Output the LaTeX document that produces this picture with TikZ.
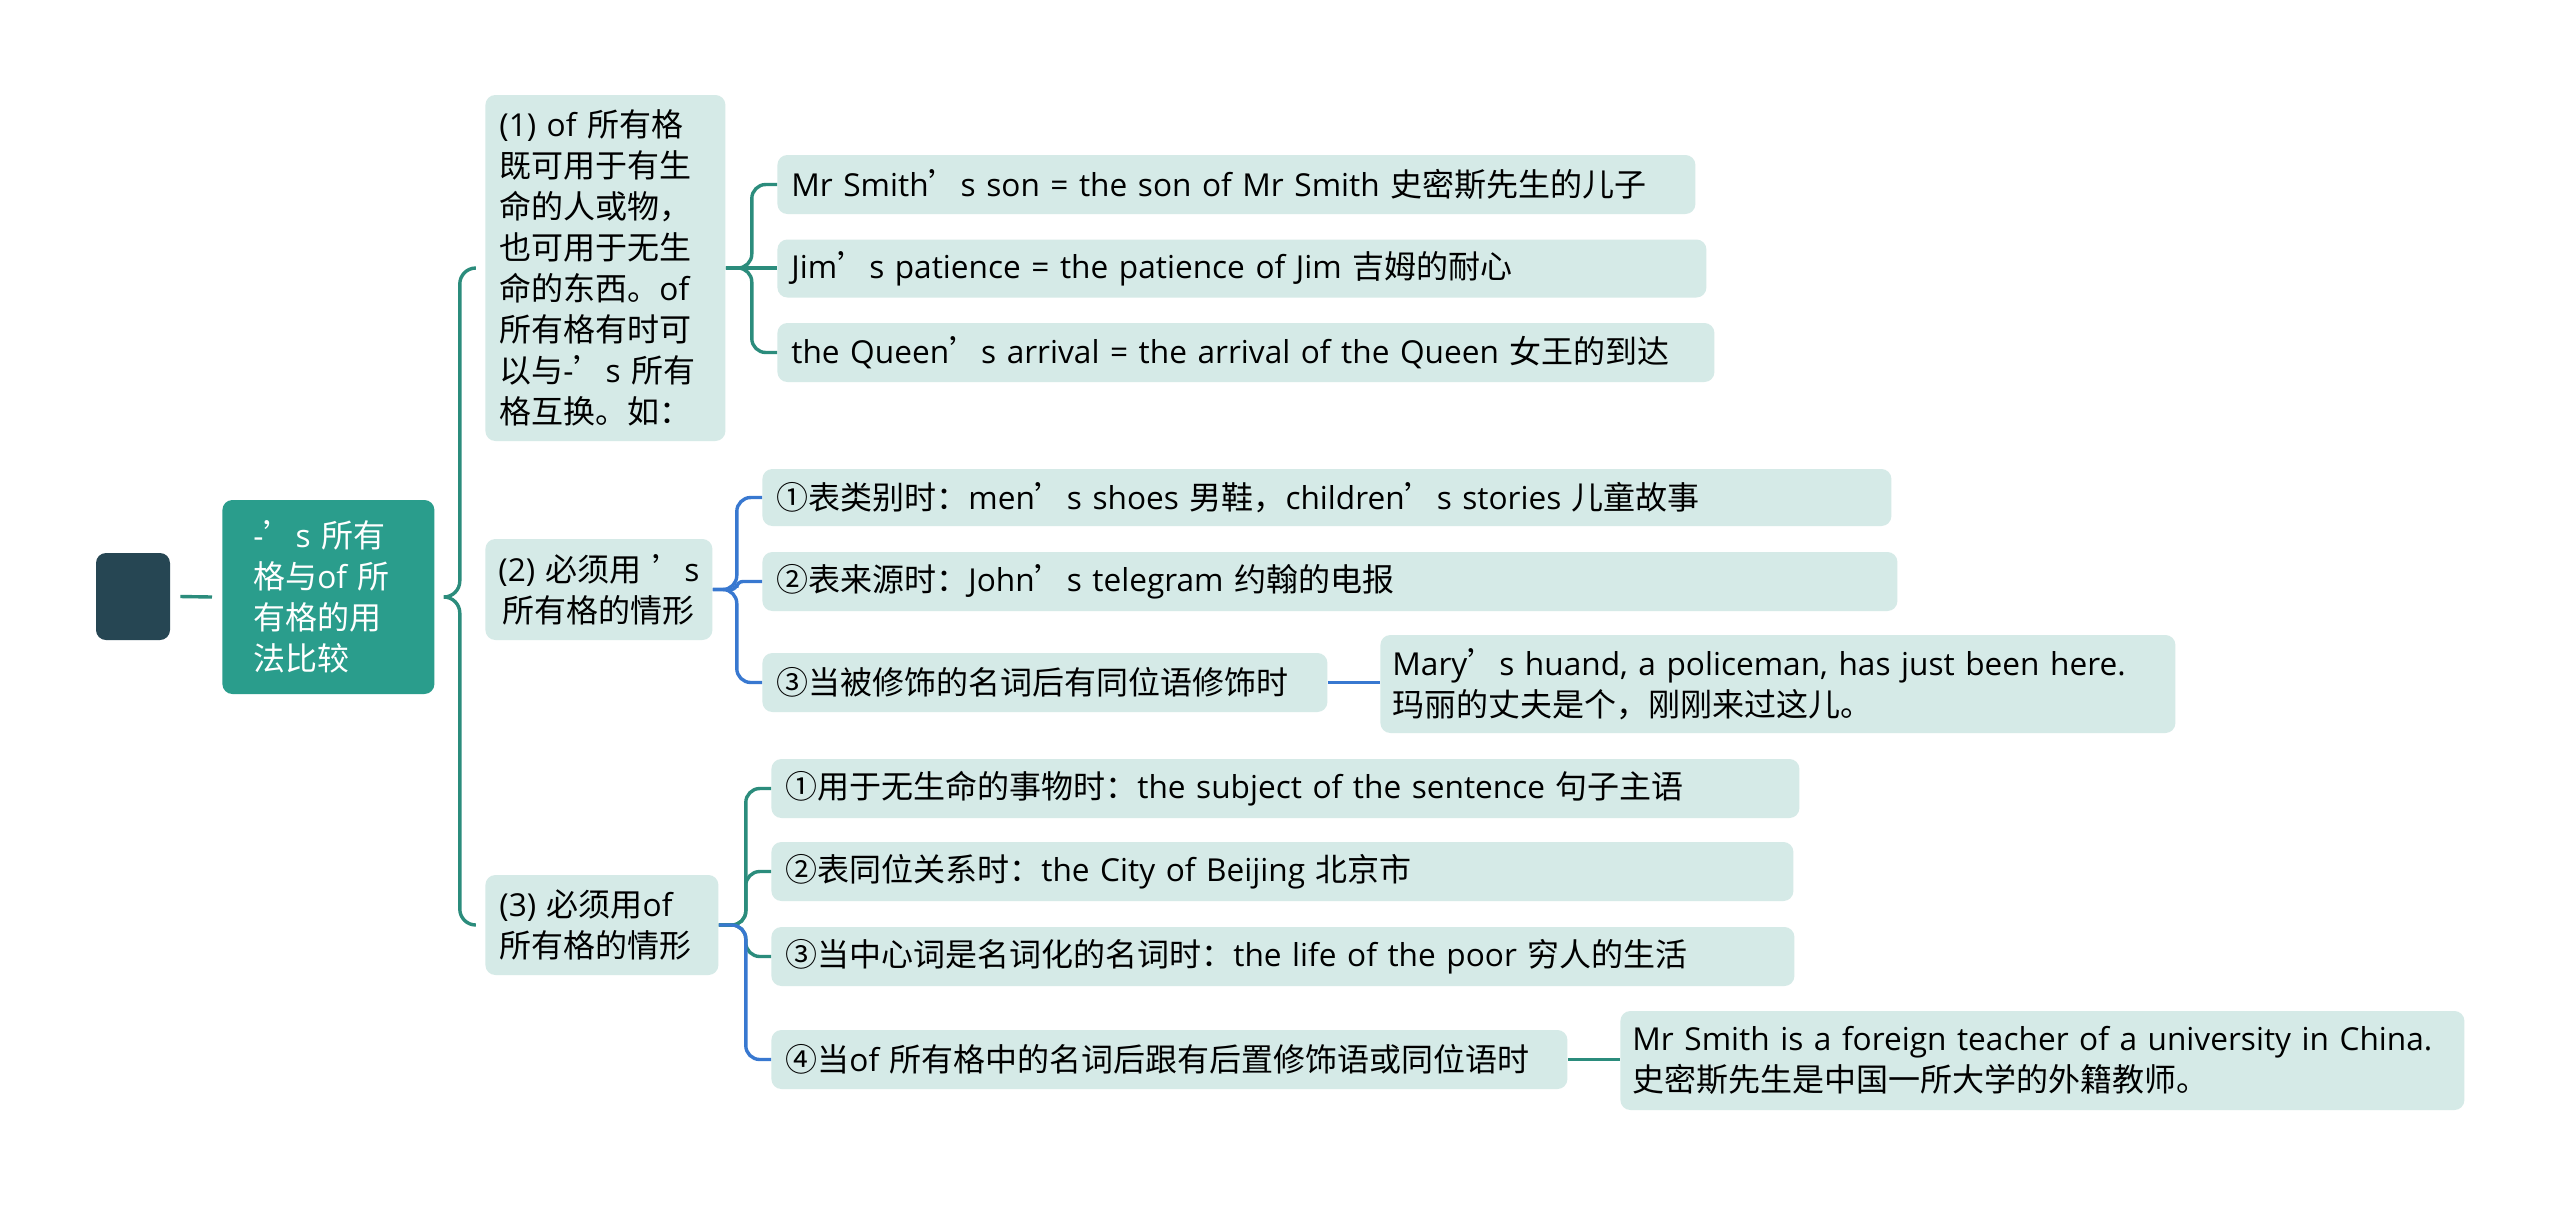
\documentclass[tikz,border=0pt]{standalone}
\usepackage{fontspec}
\setmainfont{Open Sans}[Scale=0.988]
\newfontfamily\cjkfont{Noto Sans CJK SC}
\usetikzlibrary{calc}
\XeTeXinterchartokenstate=1
\newXeTeXintercharclass\CJKcls
\makeatletter
\def\setCJKrange#1#2{\count@=#1\relax\loop\XeTeXcharclass\count@=\CJKcls\relax\ifnum\count@<#2\relax\advance\count@\@ne\repeat}
\setCJKrange{"2018}{"201D}
\setCJKrange{"2460}{"24FF}
\setCJKrange{"3000}{"303F}
\setCJKrange{"4E00}{"9FFF}
\setCJKrange{"FF00}{"FFEF}
\makeatother
\XeTeXinterchartoks 0 \CJKcls = {\cjkfont}
\XeTeXinterchartoks 4095 \CJKcls = {\cjkfont}
\XeTeXinterchartoks \CJKcls 0 = {\normalfont}
\XeTeXinterchartoks \CJKcls 4095 = {\normalfont}
\newcommand\fsz{\fontsize{16}{20.5}\selectfont}
\definecolor{boxc}{HTML}{D5EAE7}
\definecolor{mainc}{HTML}{2A9D8C}
\definecolor{rootc}{HTML}{264653}
\definecolor{tealc}{HTML}{2B8C7C}
\definecolor{bluec}{HTML}{3878D0}
\tikzset{
 lbox/.style={fill=boxc, rounded corners=5pt, anchor=west, inner xsep=7pt, inner ysep=0pt, align=left, font=\fsz, text=black},
 tline/.style={draw=tealc, line width=1.7pt},
 bline/.style={draw=bluec, line width=1.7pt},
}
\begin{document}
\begin{tikzpicture}[x=0.5pt,y=-0.5pt]
\fill[white] (0,0) rectangle (2560,1207);
\useasboundingbox (0,0) rectangle (2560,1207);
% root and main
\node[fill=rootc, rounded corners=5pt, minimum width=37pt, minimum height=43.5pt, inner sep=0pt] (root) at (133,596.5) {};
\node[fill=mainc, rounded corners=5pt, anchor=west, inner xsep=15.5pt, inner ysep=0pt, text width=75pt, minimum height=97pt, align=left, font=\fsz, text=white] (main) at (222,597) {-’s 所有\\格与of 所\\有格的用\\法比较};
% level 1
\node[lbox, text width=106pt, minimum height=173pt] (n1) at (485,268) {(1) of 所有格\\既可用于有生\\命的人或物，\\也可用于无生\\命的东西。of\\所有格有时可\\以与-’s 所有\\格互换。如：};
\node[lbox, inner xsep=3pt, text width=107.5pt, minimum height=50.5pt, align=center] (n2) at (485,589.5) {(2) 必须用 ’s\\所有格的情形};
\node[lbox, text width=102.5pt, minimum height=50pt] (n3) at (485,925) {(3) 必须用of\\所有格的情形};
% children of (1)
\node[lbox, text width=445pt, minimum height=29.5pt] (n1a) at (777,184.5) {Mr Smith’s son = the son of Mr Smith 史密斯先生的儿子};
\node[lbox, text width=450.5pt, minimum height=29pt] (n1b) at (777,268.5) {Jim’s patience = the patience of Jim 吉姆的耐心};
\node[lbox, text width=454.5pt, minimum height=29.5pt] (n1c) at (777,352.5) {the Queen’s arrival = the arrival of the Queen 女王的到达};
% children of (2)
\node[lbox, text width=550.5pt, minimum height=28.5pt] (n2a) at (762,497.5) {①表类别时：men’s shoes 男鞋，children’s stories 儿童故事};
\node[lbox, text width=553.5pt, minimum height=29.5pt] (n2b) at (762,581.5) {②表来源时：John’s telegram 约翰的电报};
\node[lbox, text width=268.5pt, minimum height=29.5pt] (n2c) at (762,682.5) {③当被修饰的名词后有同位语修饰时};
\node[lbox, inner xsep=6pt, text width=385.5pt, minimum height=49pt] (mary) at (1380,684) {Mary’s huand, a policeman, has just been here.\\玛丽的丈夫是个，刚刚来过这儿。};
% children of (3)
\node[lbox, text width=500pt, minimum height=29.5pt] (n3a) at (771,788.5) {①用于无生命的事物时：the subject of the sentence 句子主语};
\node[lbox, text width=497pt, minimum height=29.5pt] (n3b) at (771,871.5) {②表同位关系时：the City of Beijing 北京市};
\node[lbox, text width=497.5pt, minimum height=29.5pt] (n3c) at (771,956.5) {③当中心词是名词化的名词时：the life of the poor 穷人的生活};
\node[lbox, text width=384pt, minimum height=29.5pt] (n3d) at (771,1059.5) {④当of 所有格中的名词后跟有后置修饰语或同位语时};
\node[lbox, inner xsep=6pt, text width=410pt, minimum height=49.5pt] (smith) at (1620,1060.5) {Mr Smith is a foreign teacher of a university in China.\\史密斯先生是中国一所大学的外籍教师。};
% connectors
\draw[tline] ([xshift=5pt]root.east) -- ([xshift=-5pt]main.west);
\draw[tline] ([xshift=4.5pt]main.east) to[out=0,in=-90] ++(16,-16) [rounded corners=8pt] |- ([xshift=-5pt]n1.west);
\draw[tline] ([xshift=4.5pt]main.east) to[out=0,in=90] ++(16,16) [rounded corners=8pt] |- ([xshift=-5pt]n3.west);
\foreach \c in {n1a,n1c} \draw[tline, rounded corners=7pt] (n1.east) -- ++(26,0) |- (\c.west);
\draw[tline] (n1.east) -- (n1.east -| n1b.west);
\foreach \c in {n2a,n2c} \draw[bline, rounded corners=7pt] (n2.east) -- ++(24,0) |- (\c.west);
\draw[bline, rounded corners=3pt] (n2.east) -- ++(24,0) |- (n2b.west);
\draw[bline] (n2c.east) -- (n2c.east -| mary.west);
\foreach \c in {n3a,n3b,n3c} \draw[tline, rounded corners=7pt] (n3.east) -- ++(27,0) |- (\c.west);
\draw[bline, rounded corners=7pt] (n3.east) -- ++(27,0) |- (n3d.west);
\draw[tline] (n3d.east) -- (n3d.east -| smith.west);
\end{tikzpicture}
\end{document}
